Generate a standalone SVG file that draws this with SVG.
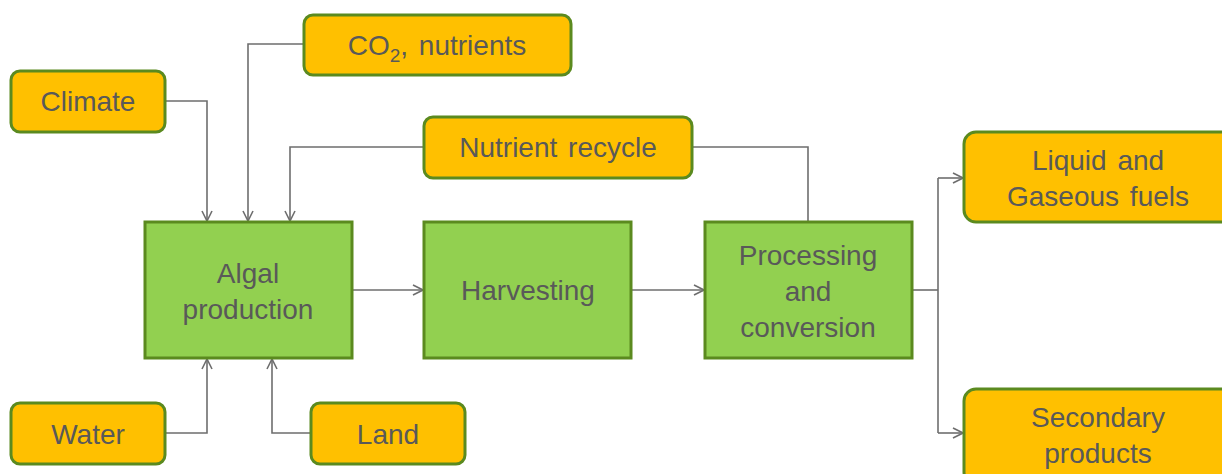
<svg xmlns="http://www.w3.org/2000/svg" width="1222" height="474" viewBox="0 0 1222 474">
<defs>
<style>
.o{fill:#FFC000;stroke:#5B8A1F;stroke-width:3}
.g{fill:#92D050;stroke:#5B8A1F;stroke-width:3}
text{font-family:"Liberation Sans",Arial,sans-serif;font-size:28px;fill:#595959;text-anchor:middle;word-spacing:3px}
.c{fill:none;stroke:#6E6E6E;stroke-width:1.6}
</style>
<marker id="a" viewBox="0 0 12 12" refX="11" refY="6" markerWidth="12" markerHeight="12" markerUnits="userSpaceOnUse" orient="auto">
<path d="M1,1 L11,6 L1,11" fill="none" stroke="#6E6E6E" stroke-width="1.6"/>
</marker>
</defs>
<rect width="1222" height="474" fill="#fff"/>
<g id="connectors">
<path class="c" d="M165,101 H207 V221" marker-end="url(#a)"/>
<path class="c" d="M304,44 H248 V221" marker-end="url(#a)"/>
<path class="c" d="M424,147 H290 V221" marker-end="url(#a)"/>
<path class="c" d="M692,147 H808 V222"/>
<path class="c" d="M165,433 H207 V359" marker-end="url(#a)"/>
<path class="c" d="M310,433 H272 V359" marker-end="url(#a)"/>
<path class="c" d="M352,290 H423" marker-end="url(#a)"/>
<path class="c" d="M631,290 H704" marker-end="url(#a)"/>
<path class="c" d="M912,290 H938"/>
<path class="c" d="M938,178 V433"/>
<path class="c" d="M938,178 H963" marker-end="url(#a)"/>
<path class="c" d="M938,433 H963" marker-end="url(#a)"/>
</g>
<g id="climate"><rect class="o" x="11" y="71" width="154" height="61" rx="9"/><text x="88" y="111">Climate</text></g>
<g id="co2"><rect class="o" x="304" y="15" width="267" height="60" rx="9"/><text x="437" y="55">CO<tspan font-size="19" dy="7">2</tspan><tspan dy="-7">, nutrients</tspan></text></g>
<g id="nutrient-recycle"><rect class="o" x="424" y="117" width="268" height="61" rx="9"/><text x="558" y="157">Nutrient recycle</text></g>
<g id="algal"><rect class="g" x="145" y="222" width="207" height="136"/><text x="248" y="283">Algal</text><text x="248" y="319">production</text></g>
<g id="harvesting"><rect class="g" x="424" y="222" width="207" height="136"/><text x="528" y="300">Harvesting</text></g>
<g id="processing"><rect class="g" x="705" y="222" width="207" height="136"/><text x="808" y="265">Processing</text><text x="808" y="301">and</text><text x="808" y="337">conversion</text></g>
<g id="liquid"><rect class="o" x="964" y="132" width="270" height="90" rx="12"/><text x="1098" y="170">Liquid and</text><text x="1098" y="206">Gaseous fuels</text></g>
<g id="secondary"><rect class="o" x="964" y="389" width="270" height="95" rx="12"/><text x="1098" y="427">Secondary</text><text x="1098" y="463">products</text></g>
<g id="water"><rect class="o" x="11" y="403" width="154" height="61" rx="9"/><text x="88" y="444">Water</text></g>
<g id="land"><rect class="o" x="311" y="403" width="154" height="61" rx="9"/><text x="388" y="444">Land</text></g>
</svg>
